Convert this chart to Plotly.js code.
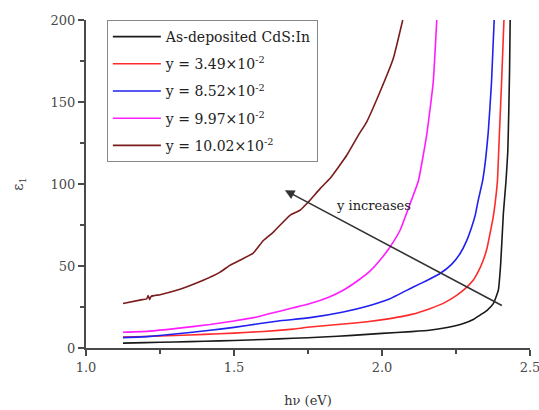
<!DOCTYPE html>
<html>
<head>
<meta charset="utf-8">
<script src="https://cdn.plot.ly/plotly-3.0.1.min.js"></script>
<style>html,body{margin:0;padding:0;background:#fff;}</style>
</head>
<body>
<div id="chart" style="width:539px;height:410px;"></div>
<script>
// Series names
const seriesNames = [
  'As-deposited CdS:In',
  'y = 3.49×10<sup>-2</sup>',
  'y = 8.52×10<sup>-2</sup>',
  'y = 9.97×10<sup>-2</sup>',
  'y = 10.02×10<sup>-2</sup>'
];

// As-deposited
const xBlack = [1.125, 1.2, 1.3, 1.4, 1.5, 1.6, 1.7, 1.8, 1.9, 2.0, 2.1, 2.16, 2.22, 2.275, 2.31, 2.33, 2.355, 2.376, 2.393, 2.401, 2.41, 2.419, 2.425, 2.428, 2.431, 2.433];
const yBlack = [3.0, 3.3, 3.7, 4.1, 4.6, 5.2, 5.9, 6.7, 7.7, 8.9, 10.0, 10.8, 12.5, 14.9, 17.5, 19.9, 23, 27.1, 35.2, 51.5, 82, 102, 120, 142, 170, 200];

// y = 3.49e-2
const xRed = [1.125, 1.2, 1.3, 1.4, 1.5, 1.6, 1.7, 1.757, 1.85, 1.95, 2.027, 2.1, 2.162, 2.21, 2.252, 2.28, 2.308, 2.325, 2.342, 2.355, 2.365, 2.375, 2.382, 2.39, 2.396, 2.404, 2.412];
const yRed = [6.7, 7.0, 7.6, 8.3, 9.1, 10.1, 11.5, 12.8, 14.3, 16.0, 17.9, 20.5, 24, 27.5, 32.1, 36, 41.3, 46.5, 53.5, 61, 69.8, 79, 88, 102, 128, 162, 200];

// y = 8.52e-2
const xBlue = [1.125, 1.216, 1.3, 1.419, 1.5, 1.588, 1.65, 1.757, 1.869, 1.95, 2.027, 2.106, 2.15, 2.196, 2.235, 2.264, 2.285, 2.303, 2.315, 2.325, 2.34, 2.35, 2.359, 2.37, 2.379];
const yBlue = [6.3, 7.1, 8.5, 10.8, 12.6, 14.9, 16.5, 18.5, 22, 25.5, 30.1, 37.2, 41, 45.4, 51, 57.6, 65, 73.8, 81, 90, 102, 115, 131.7, 162, 200];

// y = 9.97e-2
const xMagenta = [1.125, 1.216, 1.3, 1.419, 1.5, 1.577, 1.622, 1.7, 1.757, 1.82, 1.869, 1.92, 1.96, 1.993, 2.027, 2.061, 2.095, 2.123, 2.151, 2.173, 2.185];
const yMagenta = [9.6, 10.3, 11.8, 14.3, 16.5, 18.9, 21, 24.5, 27.1, 31, 35.2, 41.3, 47, 53.5, 61.6, 71.8, 88, 102, 130, 162, 200];

// y = 10.02e-2
const xBrown = [1.125, 1.19, 1.205, 1.21, 1.215, 1.22, 1.25, 1.306, 1.35, 1.396, 1.453, 1.486, 1.52, 1.565, 1.6, 1.633, 1.689, 1.723, 1.751, 1.791, 1.824, 1.881, 1.92, 1.948, 1.993, 2.038, 2.07];
const yBrown = [27.1, 29.5, 30, 32, 29.5, 31.5, 32.5, 35.2, 38, 41.3, 46.3, 50.4, 53.5, 57.9, 65.7, 70.7, 80.9, 84, 89, 97.2, 103.3, 117.5, 129.7, 137.8, 156.1, 176.5, 200];

const xTicks = [1.0, 1.5, 2.0, 2.5];
const xTickText = ['1.0', '1.5', '2.0', '2.5'];
const yTicks = [0, 50, 100, 150, 200];

// Arrow (head and tail) and label
const arrowHead = [1.672, 96.2];
const arrowTail = [2.41, 25.4];
const arrowLabel = 'y increases';
const arrowLabelPos = [1.971, 87];

const colors = ['#1a1a1a', '#ff2a2a', '#2020f0', '#ff1cff', '#7a1c1c'];
const xs = [xBlack, xRed, xBlue, xMagenta, xBrown];
const ys = [yBlack, yRed, yBlue, yMagenta, yBrown];

const FONT = 'DejaVu Serif, Liberation Serif, serif';

const traces = xs.map((x, i) => ({
  x: x, y: ys[i], type: 'scatter', mode: 'lines',
  name: seriesNames[i], legendgroup: 'g' + i,
  line: {color: colors[i], width: 1.6, shape: 'spline', smoothing: 0.4}
}));

const axisCommon = {
  showgrid: false, zeroline: false, showline: true,
  linecolor: '#4a4a4a', linewidth: 2,
  ticks: 'outside', ticklen: 6, tickwidth: 1.5, tickcolor: '#4a4a4a',
  ticklabeloverflow: 'allow',
  tickfont: {family: FONT, size: 13, color: '#4a4a4a'}
};

const layout = {
  width: 539, height: 410,
  margin: {l: 86, r: 9, t: 20, b: 62},
  paper_bgcolor: '#fff', plot_bgcolor: '#fff',
  showlegend: true,
  legend: {
    x: 0.047, y: 1.0, xanchor: 'left', yanchor: 'top',
    bordercolor: '#888', borderwidth: 1,
    font: {family: FONT, size: 14, color: '#222'},
    traceorder: 'grouped', tracegroupgap: 6,
    itemwidth: 48
  },
  xaxis: Object.assign({}, axisCommon, {
    range: [1.0, 2.5], tickmode: 'array', tickvals: xTicks, ticktext: xTickText,
    minor: {dtick: 0.25, ticks: 'outside', ticklen: 4, tickcolor: '#4a4a4a', tickwidth: 1.5},
    title: {text: 'hν (eV)', font: {family: FONT, size: 13, color: '#333'}, standoff: 22}
  }),
  yaxis: Object.assign({}, axisCommon, {
    range: [0, 200], tickmode: 'array', tickvals: yTicks,
    minor: {dtick: 25, ticks: 'outside', ticklen: 4, tickcolor: '#4a4a4a', tickwidth: 1.5},
    title: {text: 'ε<sub>1</sub>', font: {family: FONT, size: 14, color: '#333'}, standoff: 24}
  }),
  annotations: [
    {
      x: arrowHead[0], y: arrowHead[1], ax: arrowTail[0], ay: arrowTail[1],
      xref: 'x', yref: 'y', axref: 'x', ayref: 'y',
      showarrow: true, arrowhead: 2, arrowsize: 1.2, arrowwidth: 1.6, arrowcolor: '#333', text: ''
    },
    {
      x: arrowLabelPos[0], y: arrowLabelPos[1], xref: 'x', yref: 'y',
      showarrow: false, text: arrowLabel,
      font: {family: FONT, size: 13, color: '#222'}
    }
  ]
};

Plotly.newPlot('chart', traces, layout, {displayModeBar: false, staticPlot: true});
</script>
</body>
</html>
